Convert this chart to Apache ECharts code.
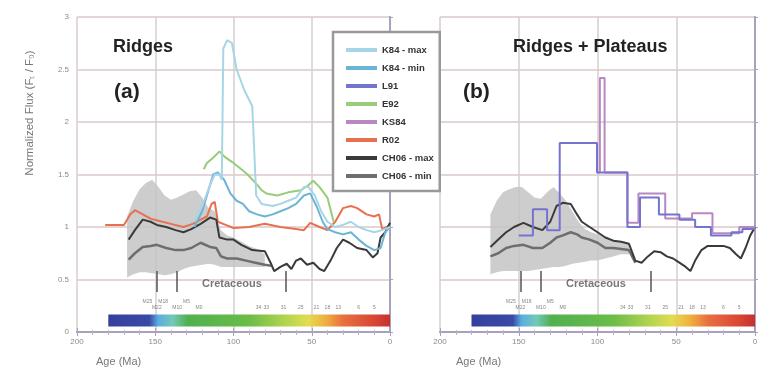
<!DOCTYPE html>
<html><head><meta charset="utf-8">
<script src="https://cdn.jsdelivr.net/npm/echarts/dist/echarts.min.js"></script>
<style>html,body{margin:0;padding:0;background:#fff}#c{width:764px;height:383px}</style>
</head><body><div id="c"></div>
<script>
// ---------- data (age Ma, normalized flux) ----------
const legendNames = ['K84 - max','K84 - min','L91','E92','KS84','R02','CH06 - max','CH06 - min'];
const yTicks = [0, 0.5, 1, 1.5, 2, 2.5, 3];
const xTicks = [200, 150, 100, 50, 0];

const k84Max = [[125,1.05],[120,1.2],[115,1.4],[112,1.5],[109,1.5],[107.5,1.45],[106.5,2.7],[104,2.78],[101,2.75],[98,2.5],[93,2.3],[88,2.15],[85.5,1.3],[82,1.22],[75,1.2],[70,1.22],[65,1.25],[60,1.28],[55,1.38],[52,1.38],[48,1.3],[44,1.15],[40,1.05],[35,1.0],[30,1.02],[25,1.05],[20,1.0],[15,0.97],[10,0.95],[5,0.97],[0,1.0]];
const k84Min = [[125,1.0],[120,1.15],[116,1.35],[113,1.5],[110,1.52],[106,1.45],[102,1.32],[98,1.25],[94,1.22],[90,1.15],[85,1.12],[80,1.1],[75,1.12],[70,1.15],[65,1.18],[60,1.22],[55,1.3],[51,1.32],[47,1.2],[43,1.05],[40,0.98],[35,0.95],[30,0.93],[25,0.95],[20,0.88],[15,0.82],[10,0.78],[6,0.8],[3,0.95],[0,1.0]];
const e92 = [[119,1.55],[117,1.61],[113,1.66],[109,1.72],[105,1.66],[100,1.61],[95,1.55],[91,1.5],[86,1.42],[82,1.35],[79,1.32],[72,1.3],[65,1.33],[57,1.35],[52,1.4],[49,1.44],[45,1.38],[40,1.28],[36,1.05]];
const r02 = [[182,1.02],[170,1.02],[166,1.12],[163,1.16],[158,1.12],[153,1.08],[148,1.06],[140,1.03],[132,1.0],[126,1.03],[121,1.07],[117,1.1],[114,1.22],[112,1.24],[110,1.05],[105,1.02],[100,0.99],[90,1.0],[80,1.03],[70,1.0],[60,0.98],[55,0.97],[51,1.04],[45,1.0],[40,0.97],[35,1.05],[30,1.18],[25,1.2],[21,1.18],[15,1.12],[10,1.1],[7,1.12],[5,0.98],[2,1.0],[0,1.02]];
const ch06MaxA = [[167,0.88],[163,0.97],[158,1.07],[153,1.05],[149,1.02],[143,1.0],[137,0.97],[132,0.95],[127,0.98],[121,1.03],[115,1.09],[111,1.07],[109,0.9],[104,0.88],[100,0.88],[95,0.83],[88,0.78],[80,0.77],[76,0.65],[74,0.58],[70,0.62],[66,0.65],[63,0.6],[60,0.68],[57,0.7],[53,0.64],[49,0.66],[45,0.6],[42,0.58],[38,0.68],[34,0.8],[30,0.88],[26,0.85],[21,0.8],[15,0.78],[11,0.71],[8,0.75],[6,0.9],[3,0.95],[0,1.04]];
const ch06MinA = [[167,0.69],[163,0.75],[158,0.81],[153,0.82],[149,0.83],[143,0.8],[137,0.78],[132,0.78],[127,0.8],[121,0.85],[115,0.81],[111,0.8],[108,0.72],[104,0.7],[98,0.7],[92,0.68],[86,0.66],[80,0.64],[76,0.63]];
const bandAges = [168,164,160,156,152,148,144,140,136,132,128,124,120,116,112,108,104,100,95,90,85,80];
const bandUpperA = [1.1,1.25,1.36,1.42,1.45,1.38,1.3,1.26,1.28,1.31,1.34,1.35,1.28,1.18,1.15,0.97,0.92,0.9,0.86,0.82,0.79,0.74];
const bandLowerA = [0.52,0.55,0.57,0.57,0.56,0.55,0.54,0.55,0.57,0.6,0.62,0.63,0.64,0.65,0.64,0.62,0.62,0.62,0.62,0.62,0.62,0.62];

const l91 = [[150,0.92],[141,1.17],[132,0.97],[124,1.8],[100.3,1.52],[81,1.0],[73,1.28],[61,1.12],[48,1.07],[38,1.0],[28,0.92],[15,0.95],[8,0.98],[0,0.98]];
const ks84 = [[100,1.52],[98.5,2.42],[95.5,1.52],[81,1.04],[74,1.32],[57,1.08],[40,1.13],[27,0.94],[10,1.0],[0,1.0]];
const ch06MaxB = [[168,0.81],[163,0.88],[158,0.95],[153,1.0],[147,1.04],[141,1.0],[135,0.97],[130,1.05],[126,1.2],[122,1.23],[117,1.22],[113,1.12],[110,1.05],[105,1.0],[100,0.95],[95,0.9],[90,0.87],[85,0.86],[80,0.84],[76,0.68],[72,0.66],[68,0.72],[64,0.77],[60,0.76],[56,0.72],[52,0.7],[48,0.66],[44,0.62],[41,0.58],[38,0.68],[34,0.78],[30,0.82],[25,0.82],[20,0.82],[16,0.8],[12,0.74],[9,0.7],[6,0.8],[3,0.92],[0,1.0]];
const ch06MinB = [[168,0.72],[163,0.75],[158,0.8],[153,0.82],[147,0.83],[141,0.8],[135,0.8],[130,0.85],[126,0.9],[122,0.92],[117,0.95],[113,0.93],[110,0.9],[105,0.88],[100,0.85],[95,0.8],[90,0.8],[85,0.79],[80,0.78],[76,0.66]];
const bandUpperB = [1.12,1.25,1.33,1.36,1.38,1.38,1.33,1.28,1.27,1.33,1.38,1.32,1.25,1.15,1.05,0.98,0.95,0.93,0.9,0.88,0.86,0.84];
const bandLowerB = [0.55,0.57,0.58,0.58,0.58,0.58,0.58,0.59,0.6,0.61,0.62,0.62,0.63,0.65,0.66,0.67,0.68,0.68,0.7,0.72,0.74,0.74];

const timeBar = [[180,0.11],[0,0.11]];
const chronRow1 = [['M25',155],['M18',145],['M5',130]];
const chronRow2 = [['M22',149],['M10',136],['M0',122],['34',84],['33',79],['31',68],['25',57],['21',47],['18',40],['13',33],['6',20],['5',10]];
const cretTicks = [149, 136, 66.5];
const cretLabel = ['Cretaceous', 101, 0.46];

// ---------- styling ----------
const col = {'K84 - max':'#a6d6e6','K84 - min':'#6cb4d6','L91':'#7474d0','E92':'#98cc78','KS84':'#b888c0','R02':'#e87050','CH06 - max':'#3a3a3a','CH06 - min':'#6e6e6e'};
const grids = [{left:77,right:374,top:17,bottom:51},{left:440,right:9,top:17,bottom:51}];

const chart = echarts.init(document.getElementById('c'));
const xAxes = [], yAxes = [], series = [];
grids.forEach((g,i)=>{
  xAxes.push({gridIndex:i,type:'value',min:0,max:200,interval:50,inverse:true,
    axisLine:{show:true,lineStyle:{color:'#aaa2bc',width:2}},
    axisTick:{show:true,inside:true,length:4,lineStyle:{color:'#aaa2bc'}},
    minorTick:{show:true,splitNumber:5,length:2,lineStyle:{color:'#c0b8cc'}},
    axisLabel:{color:'#8a8a8a',fontSize:8,margin:6,fontFamily:'Liberation Sans'},
    splitLine:{show:true,lineStyle:{color:'#d8cccc',width:1.5}}});
  xAxes.push({gridIndex:i,type:'value',min:0,max:200,interval:50,inverse:true,position:'top',
    axisLine:{show:true,lineStyle:{color:'#aaa2bc',width:2}},
    axisTick:{show:true,inside:true,length:4,lineStyle:{color:'#aaa2bc'}},
    minorTick:{show:true,splitNumber:5,length:3,lineStyle:{color:'#b8b0c8'}},
    axisLabel:{show:false},splitLine:{show:false}});
  yAxes.push({gridIndex:i,type:'value',min:0,max:3,interval:0.5,
    axisLine:{show:true,lineStyle:{color:'#aaa2bc',width:2}},
    axisTick:{show:true,inside:true,length:3,lineStyle:{color:'#aaa2bc'}},
    axisLabel:{show:i===0,color:'#8a8a8a',fontSize:8,margin:8,fontFamily:'Liberation Sans'},
    splitLine:{show:true,lineStyle:{color:'#d8c8c8',width:1.5}}});
  yAxes.push({gridIndex:i,type:'value',min:0,max:3,interval:0.5,position:'right',
    axisLine:{show:true,lineStyle:{color:'#aaa2bc',width:2}},
    axisTick:{show:false},axisLabel:{show:false},splitLine:{show:false}});
});
const xi = i => i*2, yi = i => i*2;

function line(i, name, data, opts){
  return Object.assign({type:'line',name,data,xAxisIndex:xi(i),yAxisIndex:yi(i),symbol:'none',
    lineStyle:{color:col[name],width:2},itemStyle:{color:col[name]},z:5,silent:true}, opts||{});
}
function band(i, up, lo){
  const data = bandAges.map((a,k)=>[a,lo[k],up[k]]);
  series.push({type:'custom',xAxisIndex:xi(i),yAxisIndex:yi(i),silent:true,z:1,
    data, encode:{x:0,y:[1,2]},
    renderItem:(params, api)=>{
      if (params.dataIndex !== 0) return null;
      const top = data.map(d=>api.coord([d[0],d[2]]));
      const bot = data.map(d=>api.coord([d[0],d[1]])).reverse();
      return {type:'polygon',shape:{points:top.concat(bot)},style:{fill:'#c4c4c4',opacity:0.85}};
    }});
}
function decor(i){
  series.push({type:'line',xAxisIndex:xi(i),yAxisIndex:yi(i),data:timeBar,symbol:'none',silent:true,z:2,
    lineStyle:{width:12,cap:'butt',color:new echarts.graphic.LinearGradient(0,0,1,0,[
      {offset:0,color:'#343e9c'},{offset:0.16,color:'#3a4aa6'},{offset:0.19,color:'#5aaee0'},
      {offset:0.24,color:'#74c8b8'},{offset:0.29,color:'#50b050'},{offset:0.5,color:'#6cbc48'},
      {offset:0.62,color:'#b0d450'},{offset:0.7,color:'#e2dc50'},{offset:0.76,color:'#f0b040'},
      {offset:0.82,color:'#e87040'},{offset:0.93,color:'#d84434'},{offset:1,color:'#bc2a2a'}])}});
  const lbl = (row,v)=>row.map(r=>({name:r[0],value:[r[1],v]}));
  series.push({type:'scatter',xAxisIndex:xi(i),yAxisIndex:yi(i),symbolSize:0,silent:true,z:3,
    data:lbl(chronRow1,0.29).concat(lbl(chronRow2,0.23)),
    label:{show:true,position:'inside',formatter:'{b}',fontSize:5,color:'#666',fontFamily:'Liberation Sans'}});
  series.push({type:'scatter',xAxisIndex:xi(i),yAxisIndex:yi(i),symbolSize:0,silent:true,z:3,
    data:[{name:cretLabel[0],value:[cretLabel[1],cretLabel[2]]}],
    label:{show:true,position:'inside',formatter:'{b}',fontSize:11,fontWeight:'bold',color:'#555',fontFamily:'Liberation Sans'},
    markLine:{symbol:'none',silent:true,lineStyle:{color:'#555',width:1.5,type:'solid'},label:{show:false},
      data:cretTicks.map(a=>[{coord:[a,0.58]},{coord:[a,0.38]}])}});
}

// panel a
band(0, bandUpperA, bandLowerA);
decor(0);
series.push(line(0,'R02',r02));
series.push(line(0,'CH06 - min',ch06MinA,{lineStyle:{color:col['CH06 - min'],width:2.5}}));
series.push(line(0,'CH06 - max',ch06MaxA));
series.push(line(0,'E92',e92));
series.push(line(0,'K84 - min',k84Min));
series.push(line(0,'K84 - max',k84Max));
// panel b
band(1, bandUpperB, bandLowerB);
decor(1);
series.push(line(1,'CH06 - min',ch06MinB,{lineStyle:{color:col['CH06 - min'],width:2.5}}));
series.push(line(1,'CH06 - max',ch06MaxB));
series.push(line(1,'KS84',ks84,{step:'end'}));
series.push(line(1,'L91',l91,{step:'end'}));

const bold = 'bold 18px "Liberation Sans"';
chart.setOption({
  animation:false,
  backgroundColor:'#fff',
  grid:grids,
  xAxis:xAxes, yAxis:yAxes,
  legend:{data:legendNames.map(n=>({name:n,icon:'rect',itemStyle:{color:col[n]}})),
    orient:'vertical',left:333,top:32,itemWidth:31,itemHeight:4,itemGap:8,
    padding:[13,6,10,13],backgroundColor:'#fff',borderColor:'#999',borderWidth:2.5,selectedMode:false,
    textStyle:{fontSize:9.5,fontWeight:'bold',color:'#333',fontFamily:'Liberation Sans'}},
  graphic:[
    {type:'text',left:113,top:38,z:100,style:{text:'Ridges',font:bold,fill:'#222'}},
    {type:'text',left:114,top:82,z:100,style:{text:'(a)',font:'bold 21px "Liberation Sans"',fill:'#222'}},
    {type:'text',left:513,top:38,z:100,style:{text:'Ridges + Plateaus',font:bold,fill:'#222'}},
    {type:'text',left:463,top:82,z:100,style:{text:'(b)',font:'bold 21px "Liberation Sans"',fill:'#222'}},
    {type:'text',left:96,top:356,style:{text:'Age (Ma)',font:'11px "Liberation Sans"',fill:'#777'}},
    {type:'text',left:456,top:356,style:{text:'Age (Ma)',font:'11px "Liberation Sans"',fill:'#777'}},
    {type:'text',x:30,y:113,rotation:Math.PI/2,style:{text:'Normalized Flux (Fₜ / F₀)',font:'11.5px "Liberation Sans"',fill:'#777',align:'center',verticalAlign:'middle'}}
  ],
  series
});
</script></body></html>
